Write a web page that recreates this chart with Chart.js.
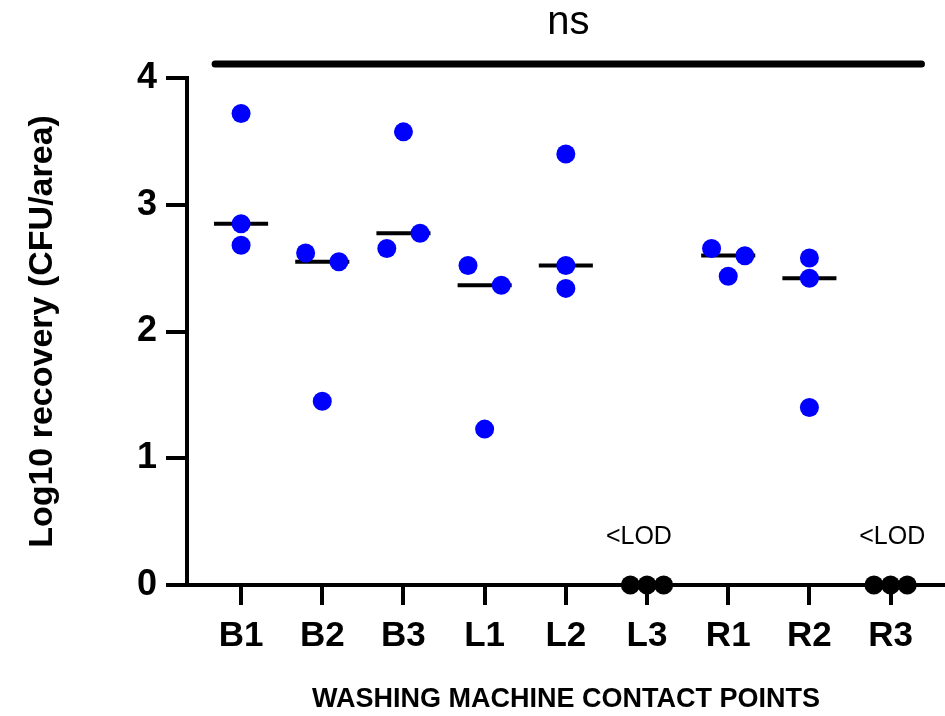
<!DOCTYPE html>
<html>
<head>
<meta charset="utf-8">
<script src="https://cdn.jsdelivr.net/npm/chart.js@4.4.1/dist/chart.umd.min.js"></script>
<style>
  body { margin: 0; background: #fff; overflow: hidden; }
  #wrap { width: 945px; height: 716px; }
  canvas { display: block; }
</style>
</head>
<body>
<div id="wrap"><canvas id="recoveryChart"></canvas></div>
<script>
// contact points on the washing machine
const categories = ['B1', 'B2', 'B3', 'L1', 'L2', 'L3', 'R1', 'R2', 'R3'];

// log10 recovery per replicate (3 per point), 0 = below LOD
const b1 = [3.72, 2.85, 2.68];
const b2 = [2.62, 2.55, 1.45];
const b3 = [3.575, 2.655, 2.775];
const l1 = [2.52, 2.365, 1.23];
const l2 = [3.40, 2.52, 2.34];
const l3 = [0, 0, 0];
const r1 = [2.655, 2.597, 2.436];
const r2 = [2.58, 2.42, 1.40];
const r3 = [0, 0, 0];
const replicates = [b1, b2, b3, l1, l2, l3, r1, r2, r3];

// scatter column of each replicate (-1 left, 0 centre, 1 right)
const columns = [
    [0, 0, 0], [-1, 1, 0], [0, -1, 1], [-1, 1, 0], [0, 0, 0],
    [-1, 0, 1], [-1, 1, 0], [0, 0, 0], [-1, 0, 1]
];

// median line per point (null where all below LOD)
const medians = [2.85, 2.55, 2.775, 2.365, 2.52, null, 2.60, 2.42, null];

// points below the limit of detection
const belowLod = ['L3', 'R3'];

const yTicks = [0, 1, 2, 3, 4];
const statLabel = 'ns';

const spread = 0.205;     // horizontal jitter of a column
const medianHalf = 0.333; // half width of the median bar

const bluePoints = [];
const lodPoints = [];
categories.forEach(function (cat, i) {
    replicates[i].forEach(function (v, j) {
        const p = { x: i + columns[i][j] * spread, y: v };
        if (belowLod.includes(cat)) {
            lodPoints.push(p);
        } else {
            bluePoints.push(p);
        }
    });
});

const medianPoints = [];
medians.forEach(function (m, i) {
    if (m === null) return;
    medianPoints.push({ x: i - medianHalf, y: m });
    medianPoints.push({ x: i + medianHalf, y: m });
    medianPoints.push({ x: i + medianHalf, y: null });
});

// significance bar over all groups
const bracketY = 4.11;
const bracketPoints = [
    { x: 0 - 0.32, y: bracketY },
    { x: categories.length - 1 + 0.38, y: bracketY }
];

const fontFamily = '"Liberation Sans", Arial, sans-serif';

// "ns" over the bar and "<LOD" above the groups below detection
const labelPlugin = {
    id: 'extraLabels',
    afterDatasetsDraw(chart) {
        const ctx = chart.ctx;
        const xs = chart.scales.x;
        const ys = chart.scales.y;
        ctx.save();
        ctx.fillStyle = '#000';
        ctx.textAlign = 'center';
        ctx.textBaseline = 'middle';

        ctx.font = '40px ' + fontFamily;
        const mid = (bracketPoints[0].x + bracketPoints[1].x) / 2;
        ctx.fillText(statLabel, xs.getPixelForValue(mid), ys.getPixelForValue(bracketY) - 41);

        ctx.font = '25px ' + fontFamily;
        const shift = [-0.1, 0.02];
        belowLod.forEach(function (cat, k) {
            const i = categories.indexOf(cat);
            ctx.fillText('<LOD', xs.getPixelForValue(i + shift[k]), ys.getPixelForValue(0.38));
        });
        ctx.restore();
    }
};

const ctx = document.getElementById('recoveryChart').getContext('2d');
new Chart(ctx, {
    type: 'scatter',
    data: {
        datasets: [
            {
                label: 'median',
                type: 'line',
                data: medianPoints,
                borderColor: '#000',
                borderWidth: 4,
                pointRadius: 0,
                spanGaps: false,
                order: 3
            },
            {
                label: 'recovery',
                data: bluePoints,
                backgroundColor: '#0000ff',
                borderWidth: 0,
                pointRadius: 9.5,
                order: 1
            },
            {
                label: '<LOD',
                data: lodPoints,
                backgroundColor: '#000',
                borderWidth: 0,
                pointRadius: 9.5,
                clip: false,
                order: 2
            },
            {
                label: 'ns',
                type: 'line',
                data: bracketPoints,
                borderColor: '#000',
                borderWidth: 7,
                borderCapStyle: 'round',
                pointRadius: 0,
                clip: false
            }
        ]
    },
    options: {
        responsive: true,
        maintainAspectRatio: false,
        animation: false,
        layout: {
            autoPadding: false,
            padding: { left: 0, right: 0, top: 78, bottom: 0 }
        },
        plugins: {
            legend: { display: false },
            tooltip: { enabled: false },
            title: { display: false }
        },
        scales: {
            x: {
                type: 'linear',
                min: -0.666,
                max: 8.67,
                afterBuildTicks: function (scale) {
                    scale.ticks = categories.map(function (c, i) { return { value: i }; });
                },
                afterFit: function (scale) {
                    scale.height = 131;
                    scale.paddingLeft = 0;
                    scale.paddingRight = 0;
                },
                ticks: {
                    autoSkip: false,
                    maxRotation: 0,
                    padding: 10,
                    color: '#000',
                    font: { family: fontFamily, size: 35, weight: 'bold' },
                    callback: function (value) { return categories[value]; }
                },
                grid: {
                    drawOnChartArea: false,
                    drawTicks: true,
                    tickLength: 20,
                    tickWidth: 4,
                    tickColor: '#000',
                    lineWidth: 4,
                    color: '#000'
                },
                border: { display: true, color: '#000', width: 4 },
                title: {
                    display: true,
                    text: 'WASHING MACHINE CONTACT POINTS',
                    color: '#000',
                    font: { family: fontFamily, size: 27, weight: 'bold' },
                    padding: { top: 0, bottom: 0 }
                }
            },
            y: {
                min: 0,
                max: 4,
                afterBuildTicks: function (scale) {
                    scale.ticks = yTicks.map(function (v) { return { value: v }; });
                },
                afterFit: function (scale) { scale.width = 187; },
                ticks: {
                    padding: 9,
                    color: '#000',
                    font: { family: fontFamily, size: 36, weight: 'bold' }
                },
                grid: {
                    drawOnChartArea: false,
                    drawTicks: true,
                    tickLength: 21,
                    tickWidth: 4,
                    tickColor: '#000',
                    lineWidth: 4,
                    color: '#000'
                },
                border: { display: true, color: '#000', width: 4 },
                title: {
                    display: true,
                    text: 'Log10 recovery (CFU/area)',
                    color: '#000',
                    font: { family: fontFamily, size: 34, weight: 'bold' },
                    padding: { top: 22, bottom: 0 }
                }
            }
        }
    },
    plugins: [labelPlugin]
});
</script>
</body>
</html>
